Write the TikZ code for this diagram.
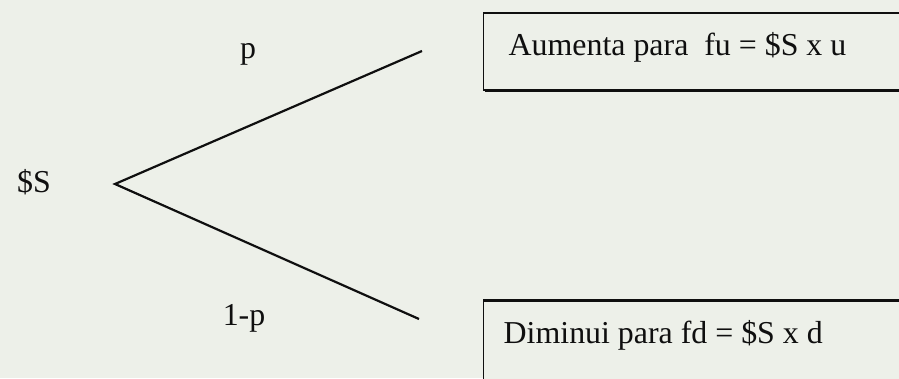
\documentclass[tikz,border=0pt]{standalone}
\usepackage{fontspec}
\setmainfont{Liberation Serif}
\usepackage{xcolor}
\usetikzlibrary{positioning, calc}
\definecolor{PaperBg}{RGB}{237, 240, 233}
\definecolor{InkBlack}{RGB}{15, 15, 15}

\begin{document}
\begin{tikzpicture}[
  x=1bp, y=-1bp,
  font=\fontsize{32}{36}\selectfont,
  lbl/.style={anchor=base, text=InkBlack, inner sep=0pt},
  outcome/.style={draw=InkBlack, line width=1.4bp, fill=PaperBg,
                  anchor=base west, inner ysep=0pt, align=flush left,
                  text=InkBlack},
  shade/.style={InkBlack, line width=3.5bp},
  branch/.style={InkBlack, line width=2.2bp},
]
\clip (0,0) rectangle (899,378);
\fill[PaperBg] (0,0) rectangle (899,378);

\node[lbl] (spot) at (34,192) {\$S};
\coordinate (root) at (115,184);
\coordinate (upend) at (422,51);
\coordinate (downend) at (419,319);

\node[lbl] (prob)  at (248,58)  {p};
\node[lbl] (qprob) at (244,325) {1-p};

\node[outcome, inner xsep=25bp, text width=400bp,
      text height=42bp, text depth=35bp]
  (fubox) at (483,55) {Aumenta para\ \ fu = \$S x u};
\node[outcome, inner xsep=20bp, text width=410bp,
      text height=42bp, text depth=60bp]
  (fdbox) at (483,343) {Diminui para fd = \$S x d};

\draw[shade] ($(fubox.south west)+(2,0)$) -- (fubox.south east);
\draw[InkBlack, line width=2bp] (fdbox.north west) -- (fdbox.north east);

\draw[branch] (upend) -- (root) -- (downend);
\end{tikzpicture}
\end{document}
